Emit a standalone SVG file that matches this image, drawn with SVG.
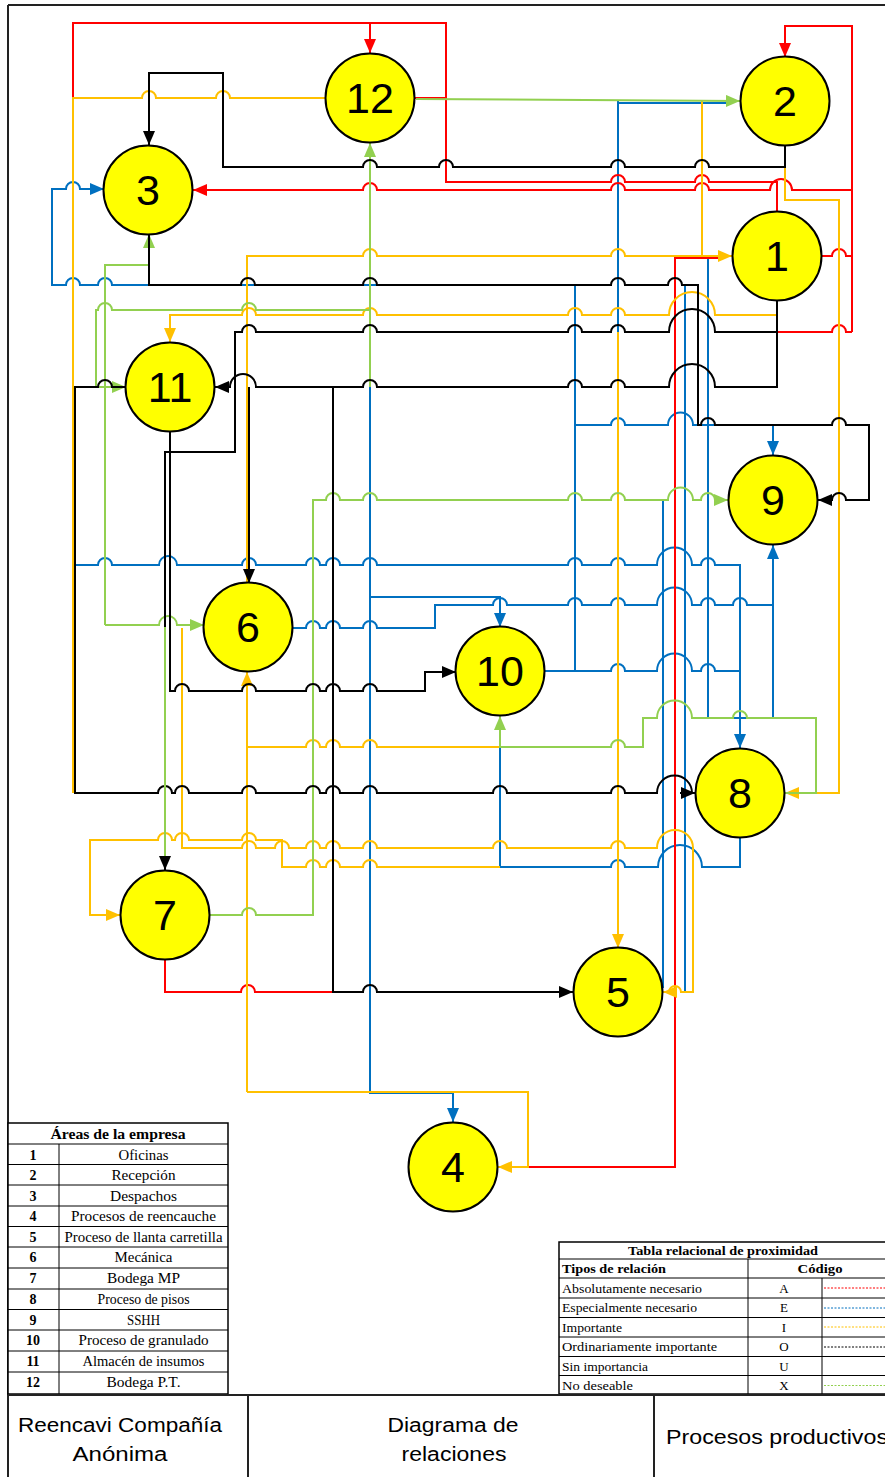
<svg xmlns="http://www.w3.org/2000/svg" width="885" height="1477" viewBox="0 0 885 1477">
<style>
.l{fill:none;stroke-width:2;stroke-linejoin:miter}
.R{stroke:#FF0000}.B{stroke:#0070C0}.Y{stroke:#FFC000}.G{stroke:#92D050}.K{stroke:#000}
.aR{marker-end:url(#mR)}.aB{marker-end:url(#mB)}.aY{marker-end:url(#mY)}.aG{marker-end:url(#mG)}.aK{marker-end:url(#mK)}
.c{fill:#FFFF00;stroke:#000;stroke-width:2}
.n{font-family:"Liberation Sans",Arial,sans-serif;font-size:43px;text-anchor:middle;fill:#000}
.t{font-family:"Liberation Serif","Times New Roman",serif;font-size:14px;fill:#000}
.t2{font-family:"Liberation Serif","Times New Roman",serif;font-size:13px;fill:#000}
.b{font-weight:bold}
.m{text-anchor:middle}
.f{font-family:"Liberation Sans",Arial,sans-serif;font-size:20px;fill:#000}
.g{fill:none;stroke:#000;stroke-width:1}
.fr{fill:none;stroke:#222;stroke-width:2}
.d{stroke-width:1;stroke-dasharray:2 1.5;fill:none}
</style>
<defs>
<marker id="mR" viewBox="0 0 14 12" refX="14" refY="6" markerWidth="14" markerHeight="12" markerUnits="userSpaceOnUse" orient="auto"><path d="M0,0 L14,6 L0,12 z" fill="#FF0000"/></marker>
<marker id="mB" viewBox="0 0 14 12" refX="14" refY="6" markerWidth="14" markerHeight="12" markerUnits="userSpaceOnUse" orient="auto"><path d="M0,0 L14,6 L0,12 z" fill="#0070C0"/></marker>
<marker id="mY" viewBox="0 0 14 12" refX="14" refY="6" markerWidth="14" markerHeight="12" markerUnits="userSpaceOnUse" orient="auto"><path d="M0,0 L14,6 L0,12 z" fill="#FFC000"/></marker>
<marker id="mG" viewBox="0 0 14 12" refX="14" refY="6" markerWidth="14" markerHeight="12" markerUnits="userSpaceOnUse" orient="auto"><path d="M0,0 L14,6 L0,12 z" fill="#92D050"/></marker>
<marker id="mK" viewBox="0 0 14 12" refX="14" refY="6" markerWidth="14" markerHeight="12" markerUnits="userSpaceOnUse" orient="auto"><path d="M0,0 L14,6 L0,12 z" fill="#000"/></marker>
</defs>

<g id="frame">
<path class="fr" d="M8,5 H885 M8,5 V1477"/>
</g>

<g id="connectors">
<!-- blue -->
<path class="l B" d="M618,103 H728"/>
<path class="l B aB" d="M575,671 V285 H112 a7,7 0 0 0 -14,0 H80 a7,7 0 0 0 -14,0 H52 V189 H66 a7,7 0 0 1 14,0 H104"/>
<path class="l B" d="M545,671 H611 a7,7 0 0 1 14,0 H657 a17.5,17.5 0 0 1 35,0 H701 a7,7 0 0 1 14,0 H740"/>
<path class="l B aB" d="M74,565 H98 a7,7 0 0 1 14,0 H159 a9,9 0 0 1 18,0 H242 a7,7 0 0 1 14,0 H306 a7,7 0 0 1 14,0 H326 a7,7 0 0 1 14,0 H363 a7,7 0 0 1 14,0 H568 a7,7 0 0 1 14,0 H611 a7,7 0 0 1 14,0 H657 a17.5,17.5 0 0 1 35,0 H701 a7,7 0 0 1 14,0 H740 V748"/>
<path class="l B aB" d="M575,425 H611 a7,7 0 0 1 14,0 H668 a12.5,12.5 0 0 1 25,0 H773 V455"/>
<path class="l B aB" d="M708,258 V718 H773 V545"/>
<path class="l B" d="M293,628 H306 a7,7 0 0 1 14,0 H326 a7,7 0 0 1 14,0 H363 a7,7 0 0 1 14,0 H435 V605 H493 a7,7 0 0 1 14,0 H568 a7,7 0 0 1 14,0 H611 a7,7 0 0 1 14,0 H657 a17.5,17.5 0 0 1 35,0 H701 a7,7 0 0 1 14,0 H733 a7,7 0 0 1 14,0 H773"/>
<path class="l B aB" d="M370,387 V1093 H453 V1122"/>
<path class="l B aB" d="M370,597 H500 V627"/>
<path class="l B" d="M663,500 V988"/>
<path class="l B" d="M685,285 V992 H693"/>
<path class="l B" d="M500,747 V867 H611 a7,7 0 0 1 14,0 H658 a22,22 0 0 1 44,0 H740 V838"/>
<path class="l B" d="M618,101 V332"/>
<!-- red -->
<path class="l R" d="M73,98 V23 H446 V182 H611 a7,7 0 0 1 14,0 H695 a7,7 0 0 1 14,0 H777 V212"/>
<path class="l R" d="M415,98 H446"/>
<path class="l R aR" d="M370,23 V53"/>
<path class="l R aR" d="M852,190 H792 a11,11 0 0 0 -22,0 H709 a7,7 0 0 0 -14,0 H625 a7,7 0 0 0 -14,0 H377 a7,7 0 0 0 -14,0 H193"/>
<path class="l R aR" d="M852,332 V26 H785 V57"/>
<path class="l R" d="M822,256 H832 a7,7 0 0 1 14,0 H852"/>
<path class="l R" d="M777,332 H832 a7,7 0 0 1 14,0 H852"/>
<path class="l R" d="M722,258 H675 V1167 H528"/>
<path class="l R" d="M165,960 V992 H241 a7,7 0 0 1 14,0 H333"/>
<!-- yellow -->
<path class="l Y" d="M325,98 H230 a7,7 0 0 0 -14,0 H156 a7,7 0 0 0 -14,0 H73 V793"/>
<path class="l Y aY" d="M785,167 V200 H839 V793 H785"/>
<path class="l Y" d="M702,101 V256"/>
<path class="l Y aY" d="M247,583 V256 H363 a7,7 0 0 1 14,0 H611 a7,7 0 0 1 14,0 H732"/>
<path class="l Y aY" d="M777,301 V315 H715 a23,23 0 0 0 -46,0 H625 a7,7 0 0 0 -14,0 H582 a7,7 0 0 0 -14,0 H377 a7,7 0 0 0 -14,0 H256 a7,7 0 0 0 -14,0 H170 V342"/>
<path class="l Y aY" d="M618,332 V948"/>
<path class="l Y aY" d="M247,1092 V672"/>
<path class="l Y aY" d="M247,1092 H528 V1167 H498"/>
<path class="l Y" d="M247,747 H306 a7,7 0 0 1 14,0 H326 a7,7 0 0 1 14,0 H363 a7,7 0 0 1 14,0 H500"/>
<path class="l Y aY" d="M182,628 V848 H242 a7,7 0 0 1 14,0 H275 a7,7 0 0 1 14,0 H306 a7,7 0 0 1 14,0 H326 a7,7 0 0 1 14,0 H363 a7,7 0 0 1 14,0 H493 a7,7 0 0 1 14,0 H611 a7,7 0 0 1 14,0 H657 a18,18 0 0 1 36,0 V992 H681 a6,6 0 0 0 -12,0 H663"/>
<path class="l Y aY" d="M500,867 H377 a7,7 0 0 0 -14,0 H340 a7,7 0 0 0 -14,0 H320 a7,7 0 0 0 -14,0 H282 V840 H256 a7,7 0 0 0 -14,0 H189 a7,7 0 0 0 -14,0 H172 a7,7 0 0 0 -14,0 H90 V915 H120"/>
<!-- green -->
<path class="l G aG" d="M416,99 L740,101"/>
<path class="l G aG" d="M370,310 H256 a7,7 0 0 0 -14,0 H112 a7,7 0 0 0 -14,0 H96 V387 H126"/>
<path class="l G aG" d="M370,387 V143"/>
<path class="l G aG" d="M105,625 V265 H149 V234"/>
<path class="l G aG" d="M105,625 H159 a9,9 0 0 1 18,0 H204"/>
<path class="l G aG" d="M210,915 H242 a7,7 0 0 1 14,0 H313 V500 H326 a7,7 0 0 1 14,0 H363 a7,7 0 0 1 14,0 H568 a7,7 0 0 1 14,0 H611 a7,7 0 0 1 14,0 H668 a12.5,12.5 0 0 1 25,0 H701 a7,7 0 0 1 14,0 H728"/>
<path class="l G aG" d="M785,793 H816 V718 H747 a7,7 0 0 0 -14,0 H692 a17.5,17.5 0 0 0 -35,0 H643 V747 H625 a7,7 0 0 0 -14,0 H500 V716"/>
<!-- black -->
<path class="l K aK" d="M785,146 V167 H709 a7,7 0 0 0 -14,0 H625 a7,7 0 0 0 -14,0 H453 a7,7 0 0 0 -14,0 H377 a7,7 0 0 0 -14,0 H223 V73 H149 V145"/>
<path class="l K aK" d="M149,234 V285 H241 a7,7 0 0 1 14,0 H363 a7,7 0 0 1 14,0 H611 a7,7 0 0 1 14,0 H668 a7,7 0 0 1 14,0 H698 V425 H701 a7,7 0 0 1 14,0 H832 a7,7 0 0 1 14,0 H869 V500 H846 a7,7 0 0 0 -14,0 H818"/>
<path class="l K aK" d="M777,301 V387 H715 a23,23 0 0 0 -46,0 H625 a7,7 0 0 0 -14,0 H582 a7,7 0 0 0 -14,0 H377 a7,7 0 0 0 -14,0 H256 a13,13 0 0 0 -26,0 H215"/>
<path class="l K aK" d="M249,387 V583"/>
<path class="l K aK" d="M333,387 V992 H363 a7,7 0 0 1 14,0 H573"/>
<path class="l K aK" d="M777,332 H715 a23,23 0 0 0 -46,0 H625 a7,7 0 0 0 -14,0 H582 a7,7 0 0 0 -14,0 H377 a7,7 0 0 0 -14,0 H256 a7,7 0 0 0 -14,0 H235 V452 H165 V870"/>
<path class="l K aK" d="M170,431 V691 H175 a7,7 0 0 1 14,0 H242 a7,7 0 0 1 14,0 H306 a7,7 0 0 1 14,0 H326 a7,7 0 0 1 14,0 H363 a7,7 0 0 1 14,0 H425 V672 H456"/>
<path class="l K" d="M126,387 H112 a7,7 0 0 0 -14,0 H75 V793 H158 a7,7 0 0 1 14,0 H175 a7,7 0 0 1 14,0 H242 a7,7 0 0 1 14,0 H306 a7,7 0 0 1 14,0 H326 a7,7 0 0 1 14,0 H363 a7,7 0 0 1 14,0 H493 a7,7 0 0 1 14,0 H611 a7,7 0 0 1 14,0 H657 a17.5,17.5 0 0 1 35,0"/>
<path class="l K aK" d="M680,793 H695"/>
<path class="l G" d="M165,627 V856"/>
</g>

<g id="n1"><circle class="c" cx="777" cy="256" r="44.5"/><text class="n" x="777" y="271">1</text></g>
<g id="n2"><circle class="c" cx="785" cy="101" r="44.5"/><text class="n" x="785" y="116">2</text></g>
<g id="n3"><circle class="c" cx="148" cy="190" r="44.5"/><text class="n" x="148" y="205">3</text></g>
<g id="n4"><circle class="c" cx="453" cy="1167" r="44.5"/><text class="n" x="453" y="1182">4</text></g>
<g id="n5"><circle class="c" cx="618" cy="992" r="44.5"/><text class="n" x="618" y="1007">5</text></g>
<g id="n6"><circle class="c" cx="248" cy="627" r="44.5"/><text class="n" x="248" y="642">6</text></g>
<g id="n7"><circle class="c" cx="165" cy="915" r="44.5"/><text class="n" x="165" y="930">7</text></g>
<g id="n8"><circle class="c" cx="740" cy="793" r="44.5"/><text class="n" x="740" y="808">8</text></g>
<g id="n9"><circle class="c" cx="773" cy="500" r="44.5"/><text class="n" x="773" y="515">9</text></g>
<g id="n10"><circle class="c" cx="500" cy="671" r="44.5"/><text class="n" x="500" y="686">10</text></g>
<g id="n11"><circle class="c" cx="170" cy="387" r="44.5"/><text class="n" x="170" y="402">11</text></g>
<g id="n12"><circle class="c" cx="370" cy="98" r="44.5"/><text class="n" x="370" y="113">12</text></g>

<g id="tabla-areas">
<rect x="8" y="1123" width="220" height="271" fill="#fff" stroke="#000" stroke-width="1.5"/>
<path class="g" d="M8,1144 H228 M8,1164.5 H228 M8,1185 H228 M8,1206 H228 M8,1226.5 H228 M8,1247 H228 M8,1268 H228 M8,1289 H228 M8,1309.5 H228 M8,1330 H228 M8,1351 H228 M8,1372 H228 M59,1144 V1394"/>
<text class="t b m" x="118" y="1139" textLength="135" lengthAdjust="spacingAndGlyphs">Áreas de la empresa</text>
<g class="t b m">
<text x="33" y="1159.5">1</text><text x="33" y="1180">2</text><text x="33" y="1200.5">3</text><text x="33" y="1221">4</text><text x="33" y="1241.5">5</text><text x="33" y="1262">6</text><text x="33" y="1283">7</text><text x="33" y="1304">8</text><text x="33" y="1324.5">9</text><text x="33" y="1345">10</text><text x="33" y="1366">11</text><text x="33" y="1387">12</text>
</g>
<g class="t m">
<text x="143.5" y="1159.5" textLength="50" lengthAdjust="spacingAndGlyphs">Oficinas</text>
<text x="143.5" y="1180" textLength="64" lengthAdjust="spacingAndGlyphs">Recepción</text>
<text x="143.5" y="1200.5" textLength="67" lengthAdjust="spacingAndGlyphs">Despachos</text>
<text x="143.5" y="1221" textLength="145" lengthAdjust="spacingAndGlyphs">Procesos de reencauche</text>
<text x="143.5" y="1241.5" textLength="158" lengthAdjust="spacingAndGlyphs">Proceso de llanta carretilla</text>
<text x="143.5" y="1262" textLength="58" lengthAdjust="spacingAndGlyphs">Mecánica</text>
<text x="143.5" y="1283" textLength="73" lengthAdjust="spacingAndGlyphs">Bodega MP</text>
<text x="143.5" y="1304" textLength="92" lengthAdjust="spacingAndGlyphs">Proceso de pisos</text>
<text x="143.5" y="1324.5" textLength="33" lengthAdjust="spacingAndGlyphs">SSHH</text>
<text x="143.5" y="1345" textLength="130" lengthAdjust="spacingAndGlyphs">Proceso de granulado</text>
<text x="143.5" y="1366" textLength="122" lengthAdjust="spacingAndGlyphs">Almacén de insumos</text>
<text x="143.5" y="1387" textLength="74" lengthAdjust="spacingAndGlyphs">Bodega P.T.</text>
</g>
</g>

<g id="tabla-proximidad">
<rect x="559" y="1242" width="331" height="152" fill="#fff" stroke="#000" stroke-width="1.5"/>
<path class="g" d="M559,1259 H890 M559,1278 H890 M559,1298 H890 M559,1317.5 H890 M559,1337 H890 M559,1356.5 H890 M559,1375.5 H890 M748,1259 V1394 M822,1278 V1394"/>
<text class="t2 b m" x="723" y="1255" textLength="190" lengthAdjust="spacingAndGlyphs">Tabla relacional de proximidad</text>
<text class="t2 b" x="562" y="1273" textLength="104" lengthAdjust="spacingAndGlyphs">Tipos de relación</text>
<text class="t2 b m" x="820" y="1273" textLength="45" lengthAdjust="spacingAndGlyphs">Código</text>
<g class="t2">
<text x="562" y="1292.5" textLength="140" lengthAdjust="spacingAndGlyphs">Absolutamente necesario</text>
<text x="562" y="1312" textLength="135" lengthAdjust="spacingAndGlyphs">Especialmente necesario</text>
<text x="562" y="1331.5" textLength="60" lengthAdjust="spacingAndGlyphs">Importante</text>
<text x="562" y="1351" textLength="155" lengthAdjust="spacingAndGlyphs">Ordinariamente importante</text>
<text x="562" y="1370.5" textLength="86" lengthAdjust="spacingAndGlyphs">Sin importancia</text>
<text x="562" y="1389.5" textLength="71" lengthAdjust="spacingAndGlyphs">No deseable</text>
</g>
<g class="t2 m">
<text x="784" y="1292.5">A</text><text x="784" y="1312">E</text><text x="784" y="1331.5">I</text><text x="784" y="1351">O</text><text x="784" y="1370.5">U</text><text x="784" y="1389.5">X</text>
</g>
<path class="d R" d="M824,1288 H890"/>
<path class="d B" d="M824,1308 H890"/>
<path class="d Y" d="M824,1327 H890"/>
<path class="d K" d="M824,1347 H890"/>
<path class="d G" d="M824,1385.5 H890"/>
</g>

<g id="rotulo">
<path class="fr" d="M8,1395 H885 M248,1395 V1477 M654,1395 V1477"/>
<text class="f m" x="120" y="1432" textLength="204" lengthAdjust="spacingAndGlyphs">Reencavi Compañía</text>
<text class="f m" x="120" y="1461" textLength="95" lengthAdjust="spacingAndGlyphs">Anónima</text>
<text class="f m" x="453" y="1432" textLength="131" lengthAdjust="spacingAndGlyphs">Diagrama de</text>
<text class="f m" x="454" y="1461" textLength="105" lengthAdjust="spacingAndGlyphs">relaciones</text>
<text class="f" x="666" y="1444" textLength="222" lengthAdjust="spacingAndGlyphs">Procesos productivos</text>
</g>
</svg>
